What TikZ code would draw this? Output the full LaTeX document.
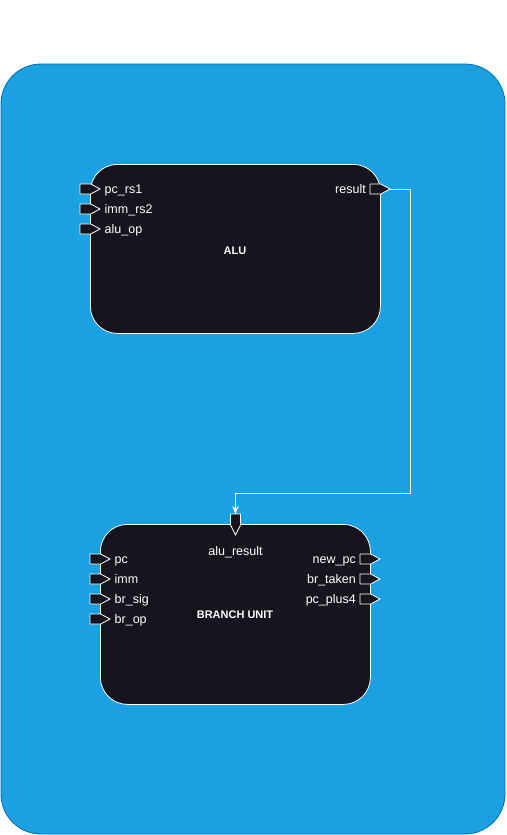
\documentclass[tikz,border=0pt]{standalone}
\usepackage{fontspec}
\setmainfont{Liberation Sans}
\usetikzlibrary{arrows.meta}
\definecolor{bgblue}{HTML}{1BA1E2}
\definecolor{bgedge}{HTML}{006EAF}
\definecolor{boxfill}{HTML}{18141D}
\tikzset{
  container/.style={draw=bgedge,fill=bgblue,line width=0.8pt,rounded corners=40pt},
  unitbox/.style={draw=white,fill=boxfill,line width=0.8pt,rounded corners=27pt},
  portshape/.style={draw=white,fill=boxfill,line width=0.8pt},
  portlabel/.style={text=white,font=\fontsize{12.5}{14}\selectfont,inner sep=0pt},
  unitlabel/.style={text=white,font=\bfseries\fontsize{11}{13}\selectfont,inner sep=0pt},
  wire/.style={draw=white,line width=0.8pt,-{Stealth[length=8pt,width=6.5pt]}}
}
\newcommand\portright[3]{% x-left, y, name  (pointing right, 20 wide)
  \draw[portshape] (#1,#2-5) -- (#1+10.7,#2-5) -- (#1+20,#2) -- (#1+10.7,#2+5) -- (#1,#2+5) -- cycle;
  \coordinate (#3) at (#1+20,#2);}
\begin{document}
\begin{tikzpicture}[x=1pt,y=-1pt]
\useasboundingbox (0,0) rectangle (506,835);
\path[container] (1,64) rectangle (505,834);
% ALU
\node[unitbox,minimum width=290pt,minimum height=169pt,anchor=north west] (alubox) at (90,164) {};
\node[unitlabel,anchor=base] (alulbl) at (235,254) {ALU};
\portright{80}{189}{p1}
\portright{80}{209}{p2}
\portright{80}{229}{p3}
\portright{370}{189}{res}
\node[portlabel,anchor=base west] (l1) at (104.5,193.5) {pc\_rs1};
\node[portlabel,anchor=base west] (l2) at (104.5,213.5) {imm\_rs2};
\node[portlabel,anchor=base west] (l3) at (104.5,233.5) {alu\_op};
\node[portlabel,anchor=base east] (l4) at (366,193.5) {result};
% BRANCH UNIT
\node[unitbox,minimum width=270pt,minimum height=180pt,anchor=north west] (brbox) at (100,524) {};
\node[unitlabel,anchor=base] (brlbl) at (235,618.5) {BRANCH UNIT};
\draw[portshape] (230.5,514) -- (240.5,514) -- (240.5,525) -- (235.5,535) -- (230.5,525) -- cycle;
\coordinate (alurin) at (235.5,514);
\node[portlabel,anchor=base] (alurlbl) at (235.5,555) {alu\_result};
\portright{90}{559}{b1}
\portright{90}{579}{b2}
\portright{90}{599}{b3}
\portright{90}{619}{b4}
\node[portlabel,anchor=base west] (bl1) at (114.5,563.5) {pc};
\node[portlabel,anchor=base west] (bl2) at (114.5,583.5) {imm};
\node[portlabel,anchor=base west] (bl3) at (114.5,603.5) {br\_sig};
\node[portlabel,anchor=base west] (bl4) at (114.5,623.5) {br\_op};
\portright{360}{559}{o1}
\portright{360}{579}{o2}
\portright{360}{599}{o3}
\node[portlabel,anchor=base east] (ol1) at (356,563.5) {new\_pc};
\node[portlabel,anchor=base east] (ol2) at (356,583.5) {br\_taken};
\node[portlabel,anchor=base east] (ol3) at (356,603.5) {pc\_plus4};
% connector
\draw[wire] (res) -- (410.5,189) -- (410.5,493.5) -- (235.5,493.5) -- (alurin);
\end{tikzpicture}
\end{document}
